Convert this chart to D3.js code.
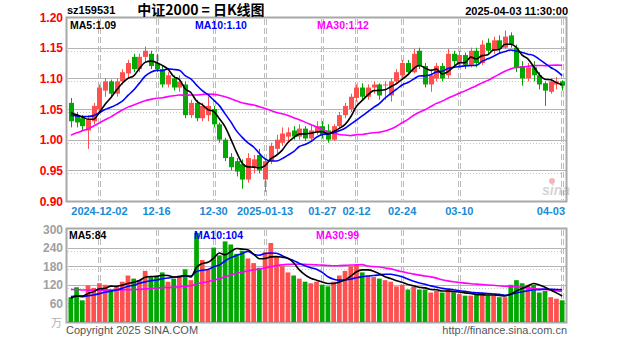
<!DOCTYPE html>
<html><head><meta charset="utf-8">
<script src="https://cdn.jsdelivr.net/npm/d3@7"></script>
<style>body{margin:0;background:#fff}svg{display:block}</style>
</head><body><svg id="c" width="627" height="342"></svg>
<script>
// Trading days shown on the daily K-line chart
const dates = [
"2024-11-25","2024-11-26","2024-11-27","2024-11-28","2024-11-29",
"2024-12-02","2024-12-03","2024-12-04","2024-12-05","2024-12-06",
"2024-12-09","2024-12-10","2024-12-11","2024-12-12","2024-12-13",
"2024-12-16","2024-12-17","2024-12-18","2024-12-19","2024-12-20",
"2024-12-23","2024-12-24","2024-12-25","2024-12-26","2024-12-27",
"2024-12-30","2024-12-31","2025-01-02","2025-01-03",
"2025-01-06","2025-01-07","2025-01-08","2025-01-09","2025-01-10",
"2025-01-13","2025-01-14","2025-01-15","2025-01-16","2025-01-17",
"2025-01-20","2025-01-21","2025-01-22","2025-01-23","2025-01-24",
"2025-01-27","2025-02-05","2025-02-06","2025-02-07",
"2025-02-10","2025-02-11","2025-02-12","2025-02-13","2025-02-14",
"2025-02-17","2025-02-18","2025-02-19","2025-02-20","2025-02-21",
"2025-02-24","2025-02-25","2025-02-26","2025-02-27","2025-02-28",
"2025-03-03","2025-03-04","2025-03-05","2025-03-06","2025-03-07",
"2025-03-10","2025-03-11","2025-03-12","2025-03-13","2025-03-14",
"2025-03-17","2025-03-18","2025-03-19","2025-03-20","2025-03-21",
"2025-03-24","2025-03-25","2025-03-26","2025-03-27","2025-03-28",
"2025-03-31","2025-04-01","2025-04-02","2025-04-03"];

const open = [1.060,1.040,1.035,1.015,1.030, 1.050,1.080,1.095,1.075,1.095,
1.108,1.135,1.115,1.135,1.140, 1.125,1.115,1.090,1.100,1.085,
1.090,1.040,1.060,1.035,1.040, 1.050,1.025,1.000,0.972,
0.965,0.960,0.935,0.955,0.975, 0.935,0.965,0.985,0.995,1.005,
1.015,1.005,1.018,1.002,1.012, 1.022,1.015,1.000,1.022,
1.040,1.050,1.068,1.085,1.070, 1.085,1.090,1.090,1.072,1.095,
1.105,1.125,1.110,1.145,1.120, 1.090,1.100,1.120,1.105,1.140,
1.125,1.138,1.122,1.145,1.125, 1.158,1.145,1.162,1.150,1.170,
1.150,1.120,1.100,1.118,1.105, 1.092,1.078,1.090,1.095];
const high = [1.068,1.045,1.040,1.040,1.060, 1.090,1.100,1.098,1.100,1.115,
1.130,1.140,1.140,1.152,1.145, 1.140,1.120,1.110,1.105,1.105,
1.095,1.065,1.065,1.060,1.070, 1.055,1.028,1.003,0.978,
0.970,0.968,0.978,0.975,0.985, 0.970,0.995,1.008,1.020,1.020,
1.022,1.025,1.022,1.025,1.030, 1.030,1.025,1.025,1.045,
1.060,1.075,1.090,1.092,1.090, 1.095,1.092,1.095,1.100,1.115,
1.130,1.130,1.148,1.150,1.125, 1.115,1.125,1.125,1.148,1.145,
1.145,1.142,1.150,1.150,1.162, 1.165,1.168,1.170,1.178,1.175,
1.155,1.128,1.125,1.128,1.110, 1.095,1.100,1.102,1.097];
const low = [1.020,1.020,1.015,0.985,1.025, 1.045,1.070,1.068,1.070,1.090,
1.100,1.110,1.110,1.125,1.115, 1.110,1.085,1.085,1.080,1.078,
1.035,1.035,1.030,1.030,1.030, 1.020,0.995,0.965,0.950,
0.940,0.920,0.930,0.945,0.945, 0.915,0.960,0.978,0.990,0.995,
1.000,1.000,0.998,0.998,1.008, 1.002,0.995,0.998,1.018,
1.035,1.045,1.062,1.065,1.065, 1.075,1.065,1.065,1.062,1.090,
1.100,1.105,1.108,1.115,1.085, 1.078,1.095,1.095,1.100,1.120,
1.118,1.115,1.118,1.118,1.122, 1.138,1.140,1.140,1.148,1.150,
1.110,1.088,1.095,1.095,1.082, 1.055,1.075,1.082,1.080];
const close = [1.030,1.028,1.022,1.032,1.055, 1.085,1.095,1.075,1.095,1.110,
1.125,1.115,1.135,1.145,1.120, 1.115,1.090,1.105,1.085,1.095,
1.040,1.060,1.035,1.055,1.055, 1.025,1.000,0.970,0.955,
0.948,0.935,0.970,0.968,0.950, 0.965,0.990,1.000,1.010,1.012,
1.005,1.018,1.002,1.015,1.022, 1.008,1.000,1.022,1.040,
1.055,1.070,1.085,1.070,1.085, 1.090,1.072,1.090,1.095,1.110,
1.125,1.110,1.140,1.120,1.090, 1.105,1.120,1.100,1.140,1.128,
1.138,1.122,1.145,1.125,1.155, 1.145,1.162,1.148,1.168,1.155,
1.118,1.100,1.118,1.105,1.090, 1.080,1.095,1.095,1.088];
// volume, in units of 万
const volume = [80,112,70,118,110, 125,120,105,115,130,
150,140,135,165,145, 150,160,130,140,150,
170,135,287,200,170, 240,215,260,250,
220,230,205,190,175, 225,255,210,180,160,
150,140,130,125,130, 120,115,130,150,
165,180,185,160,150, 145,140,135,130,115,
120,105,115,105,105, 95,100,95,105,95,
90,85,85,90,90, 85,85,80,80,120,
135,125,120,120,95, 100,80,75,70];

// closes and volumes of the 29 sessions before the first shown day (moving-average warm-up)
const priorClose = [0.915,0.925,0.930,0.920,0.935,0.940,0.930,0.925,0.945,
0.985,1.010,1.030,1.040,1.055,1.060,1.065,1.050,1.045,1.055,1.060,
1.040,1.035,1.030,1.040,1.035,1.045,1.040,1.050,1.055];
const priorVolume = [110,120,125,130,115,120,110,105,115,125,130,120,115,110,105,115,120,110,115,115,
95,90,85,90,80,75,70,75,80];

const priceTicks = [1.20,1.15,1.10,1.05,1.00,0.95,0.90];
const volumeTicks = [300,240,180,120,60];
const dateTicks = ["2024-12-02","2024-12-16","2024-12-30","2025-01-13","2025-01-27","2025-02-12","2025-02-24","2025-03-10","2025-04-03"];
const dateTickLabels = ["2024-12-02","12-16","12-30","2025-01-13","01-27","02-12","02-24","03-10","04-03"];
const maPeriods = [5,10,30];
const maColors = ["#000000","#0000ff","#ff00ff"];

const RED = "#ff5050", GREEN = "#00a800", GRID = "#b4b4b4";
const FONT = "'Liberation Sans', Arial, sans-serif";

const svg = d3.select("#c");
const x = d3.scaleBand().domain(dates).range([68, 565]);
const cx = d => x(d) + x.bandwidth() / 2;
const yP = d3.scaleLinear().domain([0.90, 1.20]).range([201, 17]);
const yV = d3.scaleLinear().domain([0, 300]).range([322, 229]);

function movingAverage(values, prior, n) {
  const all = prior.concat(values);
  return values.map((_, i) => {
    const end = prior.length + i + 1;
    return d3.mean(all.slice(end - n, end));
  });
}

// ---------- panel frames and grids ----------
function panel(top, bottom, ticks, yScale) {
  const g = svg.append("g");
  ticks.forEach(t => {
    const yy = Math.round(yScale(t)) + 0.5;
    if (yy < top + 3 || yy > bottom - 3) return;
    g.append("line").attr("x1", 68).attr("x2", 566).attr("y1", yy).attr("y2", yy)
      .attr("stroke", GRID).attr("stroke-width", 1);
    g.append("line").attr("x1", 68).attr("x2", 566).attr("y1", yy + 3).attr("y2", yy + 3)
      .attr("stroke", "#c8c8c8").attr("stroke-width", 1).attr("stroke-dasharray", "1,2");
  });
  dateTicks.forEach(d => {
    const xx = Math.round(cx(d)) + 0.5;
    [xx - 1, xx + 1].forEach(v => g.append("line").attr("x1", v).attr("x2", v)
      .attr("y1", top + 2).attr("y2", bottom - 1)
      .attr("stroke", "#bcbcbc").attr("stroke-width", 1).attr("stroke-dasharray", "6,3"));
  });
  g.append("rect").attr("x", 66.5).attr("y", top + 0.5).attr("width", 500).attr("height", bottom - top)
    .attr("fill", "none").attr("stroke", "#a8a8a8").attr("stroke-width", 2);
  return g;
}
panel(17, 201, priceTicks, yP);
panel(228, 322, volumeTicks, yV);

// ---------- candles ----------
const gC = svg.append("g");
dates.forEach((d, i) => {
  const up = close[i] >= open[i];
  const col = up ? RED : GREEN;
  const c = Math.round(cx(d)) + 0.5;
  gC.append("line").attr("x1", c).attr("x2", c).attr("y1", yP(high[i])).attr("y2", yP(low[i]))
    .attr("stroke", col).attr("stroke-width", 1);
  const y0 = yP(Math.max(open[i], close[i])), y1 = yP(Math.min(open[i], close[i]));
  gC.append("rect").attr("x", c - 2.5).attr("y", y0).attr("width", 5)
    .attr("height", Math.max(1, y1 - y0)).attr("fill", col);
});

// ---------- volume bars ----------
const gV = svg.append("g");
dates.forEach((d, i) => {
  const up = close[i] >= open[i];
  gV.append("rect").attr("x", x(d) + 0.5).attr("y", yV(volume[i]))
    .attr("width", x.bandwidth() - 1).attr("height", yV(0) - yV(volume[i]))
    .attr("fill", up ? RED : GREEN);
});

// ---------- moving averages ----------
const priceMA = maPeriods.map(n => movingAverage(close, priorClose, n));
const volMA = maPeriods.map(n => movingAverage(volume, priorVolume, n));
const linePrice = d3.line().x((v, i) => cx(dates[i])).y(v => yP(v)).curve(d3.curveMonotoneX);
const lineVol = d3.line().x((v, i) => cx(dates[i])).y(v => yV(v)).curve(d3.curveMonotoneX);
[2, 1, 0].forEach(k => {
  svg.append("path").attr("d", linePrice(priceMA[k])).attr("fill", "none")
    .attr("stroke", maColors[k]).attr("stroke-width", 1.6);
  svg.append("path").attr("d", lineVol(volMA[k])).attr("fill", "none")
    .attr("stroke", maColors[k]).attr("stroke-width", 1.6);
});

// ---------- texts ----------
function txt(s, xx, yy, opt = {}) {
  return svg.append("text").attr("x", xx).attr("y", yy).text(s)
    .attr("font-family", opt.family || FONT).attr("font-size", opt.size || 11)
    .attr("font-weight", opt.weight || "bold").attr("fill", opt.fill || "#000")
    .attr("text-anchor", opt.anchor || "start");
}
txt("sz159531", 67, 14, {size: 11});
txt("中证2000 = 日K线图", 201, 15, {size: 14, anchor: "middle", family: "'Noto Sans CJK SC', sans-serif"});
txt("2025-04-03 11:30:00", 568, 15, {size: 11, anchor: "end"});

const last = dates.length - 1;
const maX = [70, 195, 317];
maPeriods.forEach((n, k) => {
  txt(`MA${n}:${priceMA[k][last].toFixed(2)}`, maX[k], 29, {size: 10.5, fill: maColors[k]});
  txt(`MA${n}:${Math.round(volMA[k][last])}`, maX[k] - 1, 239, {size: 10.5, fill: maColors[k]});
});

priceTicks.forEach(t => txt(t.toFixed(2), 63, yP(t) + 4.5, {size: 12, anchor: "end", fill: "#ff0000"}));
volumeTicks.forEach(t => txt(String(t), 63, yV(t) + 4.5, {size: 12, anchor: "end", fill: "#a0a0a0"}));
txt("万", 62, 327, {size: 11, anchor: "end", fill: "#b0b0b0", weight: "normal", family: "'Noto Sans CJK SC', sans-serif"});

dateTicks.forEach((d, i) => {
  const isLast = i === dateTicks.length - 1;
  txt(dateTickLabels[i], isLast ? 565 : cx(d), 215, {size: 11, anchor: isLast ? "end" : "middle", fill: "#1a8ad4"});
});

// sina watermark
const wm = svg.append("g").attr("opacity", 0.35);
wm.append("text").attr("x", 542).attr("y", 195).text("sina")
  .attr("font-family", FONT).attr("font-style", "italic").attr("font-weight", "bold")
  .attr("font-size", 14).attr("fill", "#888");
wm.append("circle").attr("cx", 552).attr("cy", 181).attr("r", 3).attr("fill", "#e03030");

txt("Copyright 2025 SINA.COM", 66, 334, {size: 11, weight: "normal", fill: "#555"});
txt("http://finance.sina.com.cn", 567, 334, {size: 11, weight: "normal", fill: "#555", anchor: "end"});
</script>
</body></html>
